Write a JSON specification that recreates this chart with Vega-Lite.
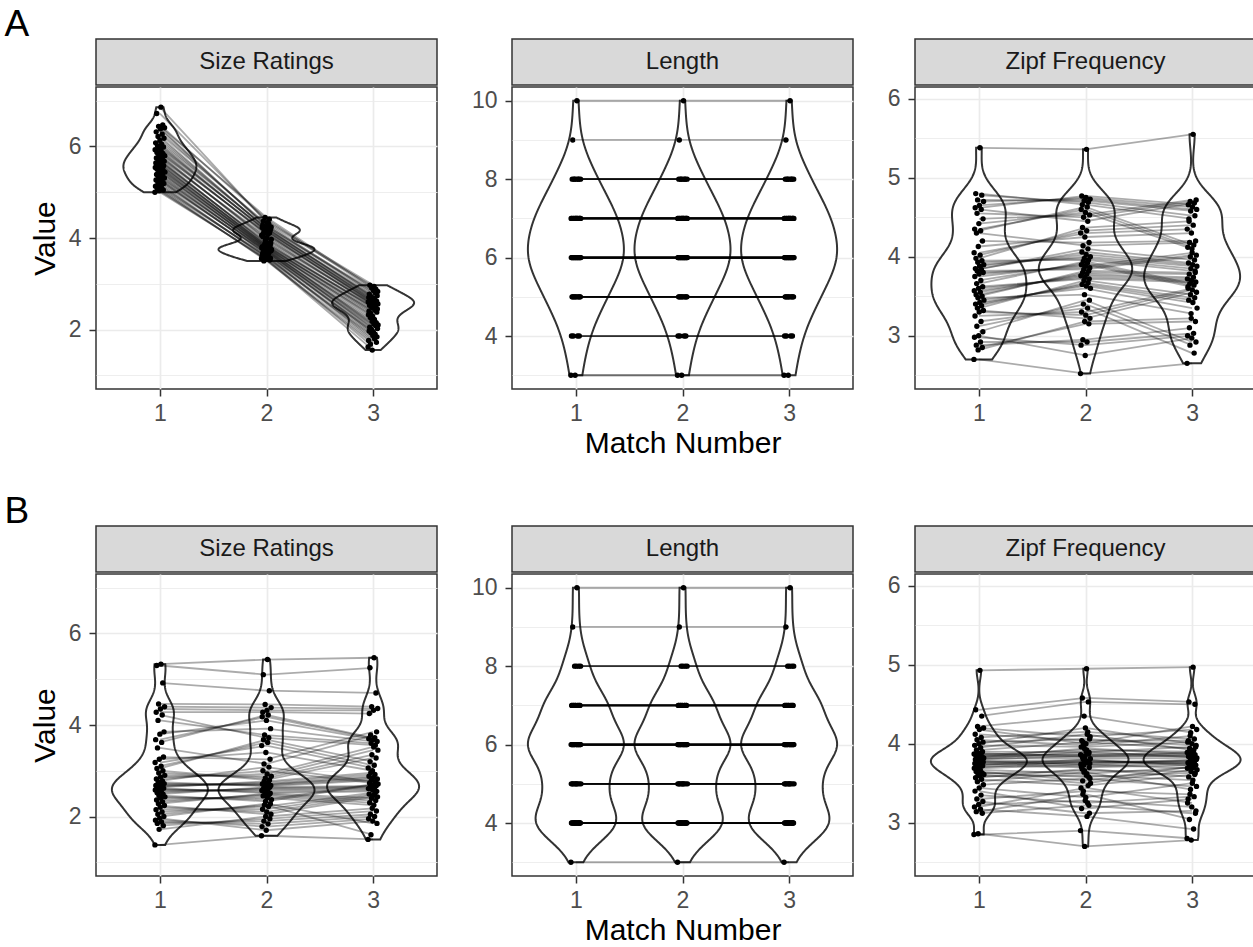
{
"$schema": "https://vega.github.io/schema/vega-lite/v6.json",
"padding": {"left": 4, "top": 6, "right": 0, "bottom": 0},
"config": {
  "font": "Liberation Sans",
  "view": {"stroke": "#333333", "strokeWidth": 1.5},
  "axis": {"domain": false, "tickColor": "#333333", "tickWidth": 1.5, "tickSize": 7, "labelColor": "#4d4d4d", "labelFontSize": 23, "labelFont": "Liberation Sans", "titleFont": "Liberation Sans", "titleFontSize": 30, "titleFontWeight": "normal", "titleColor": "#000000", "gridColor": "#ebebeb", "gridWidth": 1.7, "labelOverlap": false, "labelFlush": false},
  "axisY": {"titlePadding": 8, "labelPadding": 8},
  "axisX": {"titlePadding": 3, "labelPadding": 6},
  "title": {"font": "Liberation Sans", "fontWeight": "normal", "color": "#000000"}
},
"datasets": {
"sizeA": [
{"i":1,"1":5.00,"2":3.55,"3":1.62},{"i":24,"1":5.03,"2":3.53,"3":1.55},{"i":47,"1":5.05,"2":3.52,"3":1.72},{"i":14,"1":5.08,"2":3.50,"3":1.68},
{"i":37,"1":5.10,"2":3.61,"3":1.80},{"i":4,"1":5.13,"2":3.60,"3":1.76},{"i":27,"1":5.16,"2":3.58,"3":1.87},{"i":50,"1":5.19,"2":3.56,"3":1.84},
{"i":17,"1":5.22,"2":3.68,"3":1.93},{"i":40,"1":5.25,"2":3.66,"3":1.90},{"i":7,"1":5.27,"2":3.65,"3":1.97},{"i":30,"1":5.29,"2":3.63,"3":1.95},
{"i":53,"1":5.31,"2":3.72,"3":2.02},{"i":20,"1":5.34,"2":3.71,"3":2.00},{"i":43,"1":5.36,"2":3.70,"3":2.08},{"i":10,"1":5.39,"2":3.69,"3":2.05},
{"i":33,"1":5.41,"2":3.76,"3":2.12},{"i":56,"1":5.44,"2":3.75,"3":2.10},{"i":23,"1":5.46,"2":3.74,"3":2.18},{"i":46,"1":5.48,"2":3.73,"3":2.15},
{"i":13,"1":5.50,"2":3.80,"3":2.26},{"i":36,"1":5.52,"2":3.79,"3":2.22},{"i":3,"1":5.54,"2":3.78,"3":2.32},{"i":26,"1":5.56,"2":3.77,"3":2.29},
{"i":49,"1":5.58,"2":3.84,"3":2.38},{"i":16,"1":5.60,"2":3.83,"3":2.35},{"i":39,"1":5.62,"2":3.82,"3":2.42},{"i":6,"1":5.64,"2":3.81,"3":2.40},
{"i":29,"1":5.66,"2":3.91,"3":2.47},{"i":52,"1":5.68,"2":3.89,"3":2.45},{"i":19,"1":5.70,"2":3.87,"3":2.50},{"i":42,"1":5.72,"2":3.85,"3":2.49},
{"i":9,"1":5.75,"2":4.03,"3":2.53},{"i":32,"1":5.77,"2":4.00,"3":2.52},{"i":55,"1":5.80,"2":3.97,"3":2.56},{"i":22,"1":5.82,"2":3.94,"3":2.55},
{"i":45,"1":5.85,"2":4.11,"3":2.58},{"i":12,"1":5.87,"2":4.10,"3":2.57},{"i":35,"1":5.90,"2":4.08,"3":2.61},{"i":2,"1":5.93,"2":4.06,"3":2.60},
{"i":25,"1":5.96,"2":4.17,"3":2.64},{"i":48,"1":5.99,"2":4.16,"3":2.62},{"i":15,"1":6.02,"2":4.15,"3":2.67},{"i":38,"1":6.05,"2":4.13,"3":2.65},
{"i":5,"1":6.08,"2":4.23,"3":2.70},{"i":28,"1":6.13,"2":4.21,"3":2.69},{"i":51,"1":6.18,"2":4.20,"3":2.74},{"i":18,"1":6.22,"2":4.19,"3":2.72},
{"i":41,"1":6.27,"2":4.31,"3":2.80},{"i":8,"1":6.32,"2":4.28,"3":2.77},{"i":31,"1":6.38,"2":4.26,"3":2.85},{"i":54,"1":6.41,"2":4.24,"3":2.83},
{"i":21,"1":6.44,"2":4.45,"3":2.91},{"i":44,"1":6.47,"2":4.41,"3":2.88},{"i":11,"1":6.72,"2":4.37,"3":2.97},{"i":34,"1":6.86,"2":4.34,"3":2.94}
],
"lenA": [
{"i":1,"1":3,"2":3,"3":3},{"i":24,"1":3,"2":3,"3":3},
{"i":47,"1":4,"2":4,"3":4},{"i":14,"1":4,"2":4,"3":4},{"i":37,"1":4,"2":4,"3":4},{"i":4,"1":4,"2":4,"3":4},
{"i":27,"1":5,"2":5,"3":5},{"i":50,"1":5,"2":5,"3":5},{"i":17,"1":5,"2":5,"3":5},{"i":40,"1":5,"2":5,"3":5},{"i":7,"1":5,"2":5,"3":5},
{"i":30,"1":5,"2":5,"3":5},{"i":53,"1":5,"2":5,"3":5},{"i":20,"1":5,"2":5,"3":5},{"i":43,"1":5,"2":5,"3":5},{"i":10,"1":5,"2":5,"3":5},
{"i":33,"1":6,"2":6,"3":6},{"i":56,"1":6,"2":6,"3":6},{"i":23,"1":6,"2":6,"3":6},{"i":46,"1":6,"2":6,"3":6},{"i":13,"1":6,"2":6,"3":6},
{"i":36,"1":6,"2":6,"3":6},{"i":3,"1":6,"2":6,"3":6},{"i":26,"1":6,"2":6,"3":6},{"i":49,"1":6,"2":6,"3":6},{"i":16,"1":6,"2":6,"3":6},
{"i":39,"1":6,"2":6,"3":6},{"i":6,"1":6,"2":6,"3":6},{"i":29,"1":6,"2":6,"3":6},{"i":52,"1":6,"2":6,"3":6},{"i":19,"1":6,"2":6,"3":6},
{"i":42,"1":6,"2":6,"3":6},{"i":9,"1":6,"2":6,"3":6},
{"i":32,"1":7,"2":7,"3":7},{"i":55,"1":7,"2":7,"3":7},{"i":22,"1":7,"2":7,"3":7},{"i":45,"1":7,"2":7,"3":7},{"i":12,"1":7,"2":7,"3":7},
{"i":35,"1":7,"2":7,"3":7},{"i":2,"1":7,"2":7,"3":7},{"i":25,"1":7,"2":7,"3":7},{"i":48,"1":7,"2":7,"3":7},{"i":15,"1":7,"2":7,"3":7},
{"i":38,"1":7,"2":7,"3":7},{"i":5,"1":7,"2":7,"3":7},{"i":28,"1":7,"2":7,"3":7},{"i":51,"1":7,"2":7,"3":7},
{"i":18,"1":8,"2":8,"3":8},{"i":41,"1":8,"2":8,"3":8},{"i":8,"1":8,"2":8,"3":8},{"i":31,"1":8,"2":8,"3":8},{"i":54,"1":8,"2":8,"3":8},
{"i":21,"1":8,"2":8,"3":8},{"i":44,"1":8,"2":8,"3":8},
{"i":11,"1":9,"2":9,"3":9},{"i":34,"1":10,"2":10,"3":10}
],
"zipfA": [
{"i":1,"1":2.70,"2":2.52,"3":2.65},{"i":24,"1":2.82,"2":3.18,"3":3.22},{"i":47,"1":2.85,"2":3.15,"3":3.18},{"i":14,"1":2.88,"2":2.95,"3":3.10},
{"i":37,"1":2.92,"2":2.92,"3":3.03},{"i":4,"1":2.98,"2":2.88,"3":3.00},{"i":27,"1":3.00,"2":2.75,"3":2.97},{"i":50,"1":3.05,"2":3.45,"3":2.92},
{"i":17,"1":3.12,"2":3.40,"3":2.88},{"i":40,"1":3.18,"2":3.35,"3":2.78},{"i":7,"1":3.25,"2":3.30,"3":3.60},{"i":30,"1":3.30,"2":3.26,"3":3.58},
{"i":53,"1":3.32,"2":3.22,"3":3.55},{"i":20,"1":3.35,"2":3.70,"3":3.52},{"i":43,"1":3.38,"2":3.67,"3":3.48},{"i":10,"1":3.40,"2":3.65,"3":3.45},
{"i":33,"1":3.42,"2":3.63,"3":3.42},{"i":56,"1":3.45,"2":3.60,"3":3.35},{"i":23,"1":3.48,"2":3.52,"3":3.28},{"i":46,"1":3.50,"2":3.82,"3":3.80},
{"i":13,"1":3.52,"2":3.80,"3":3.78},{"i":36,"1":3.55,"2":3.78,"3":3.74},{"i":3,"1":3.57,"2":3.76,"3":3.72},{"i":26,"1":3.60,"2":3.74,"3":3.70},
{"i":49,"1":3.62,"2":3.72,"3":3.68},{"i":16,"1":3.66,"2":3.94,"3":3.66},{"i":39,"1":3.70,"2":3.92,"3":3.64},{"i":6,"1":3.75,"2":3.90,"3":3.62},
{"i":29,"1":3.78,"2":3.88,"3":4.05},{"i":52,"1":3.80,"2":3.86,"3":4.02},{"i":19,"1":3.82,"2":3.84,"3":4.00},{"i":42,"1":3.84,"2":4.10,"3":3.96},
{"i":9,"1":3.85,"2":4.06,"3":3.92},{"i":32,"1":3.88,"2":4.03,"3":3.90},{"i":55,"1":3.90,"2":4.00,"3":3.88},{"i":22,"1":3.93,"2":3.98,"3":3.85},
{"i":45,"1":3.95,"2":3.96,"3":3.82},{"i":12,"1":3.98,"2":4.37,"3":4.45},{"i":35,"1":4.02,"2":4.33,"3":4.40},{"i":2,"1":4.05,"2":4.30,"3":4.35},
{"i":25,"1":4.13,"2":4.25,"3":4.30},{"i":48,"1":4.20,"2":4.18,"3":4.20},{"i":15,"1":4.30,"2":4.14,"3":4.18},{"i":38,"1":4.33,"2":4.63,"3":4.15},
{"i":5,"1":4.35,"2":4.60,"3":4.12},{"i":28,"1":4.42,"2":4.56,"3":4.10},{"i":51,"1":4.48,"2":4.53,"3":4.72},{"i":18,"1":4.55,"2":4.50,"3":4.70},
{"i":41,"1":4.60,"2":4.45,"3":4.68},{"i":8,"1":4.62,"2":4.77,"3":4.66},{"i":31,"1":4.65,"2":4.75,"3":4.63},{"i":54,"1":4.70,"2":4.73,"3":4.60},
{"i":21,"1":4.72,"2":4.71,"3":4.58},{"i":44,"1":4.78,"2":4.69,"3":4.52},{"i":11,"1":4.80,"2":4.66,"3":4.48},{"i":34,"1":5.38,"2":5.36,"3":5.55}
],
"sizeB": [
{"i":1,"1":1.38,"2":1.58,"3":1.50},{"i":24,"1":1.72,"2":2.00,"3":2.18},{"i":47,"1":1.80,"2":1.95,"3":2.12},{"i":14,"1":1.85,"2":1.90,"3":2.05},
{"i":37,"1":1.88,"2":1.84,"3":2.00},{"i":4,"1":1.92,"2":1.78,"3":1.95},{"i":27,"1":1.96,"2":1.70,"3":1.90},{"i":50,"1":2.00,"2":2.28,"3":1.85},
{"i":17,"1":2.05,"2":2.25,"3":1.60},{"i":40,"1":2.10,"2":2.22,"3":2.52},{"i":7,"1":2.15,"2":2.16,"3":2.49},{"i":30,"1":2.20,"2":2.10,"3":2.46},
{"i":53,"1":2.24,"2":2.05,"3":2.43},{"i":20,"1":2.28,"2":2.50,"3":2.40},{"i":43,"1":2.32,"2":2.48,"3":2.35},{"i":10,"1":2.36,"2":2.45,"3":2.30},
{"i":33,"1":2.40,"2":2.41,"3":2.25},{"i":56,"1":2.43,"2":2.37,"3":2.71},{"i":23,"1":2.46,"2":2.33,"3":2.69},{"i":46,"1":2.49,"2":2.64,"3":2.67},
{"i":13,"1":2.52,"2":2.62,"3":2.65},{"i":36,"1":2.55,"2":2.60,"3":2.63},{"i":3,"1":2.58,"2":2.57,"3":2.61},{"i":26,"1":2.60,"2":2.54,"3":2.58},
{"i":49,"1":2.62,"2":2.51,"3":2.55},{"i":16,"1":2.64,"2":2.77,"3":2.96},{"i":39,"1":2.66,"2":2.74,"3":2.92},{"i":6,"1":2.68,"2":2.71,"3":2.88},
{"i":29,"1":2.70,"2":2.70,"3":2.85},{"i":52,"1":2.72,"2":2.68,"3":2.82},{"i":19,"1":2.75,"2":2.66,"3":2.79},{"i":42,"1":2.78,"2":3.08,"3":2.76},
{"i":9,"1":2.82,"2":3.00,"3":2.73},{"i":32,"1":2.86,"2":2.93,"3":3.52},{"i":55,"1":2.90,"2":2.88,"3":3.45},{"i":22,"1":2.95,"2":2.84,"3":3.35},
{"i":45,"1":3.00,"2":2.80,"3":3.28},{"i":12,"1":3.05,"2":3.68,"3":3.20},{"i":35,"1":3.10,"2":3.62,"3":3.12},{"i":2,"1":3.18,"2":3.55,"3":3.06},
{"i":25,"1":3.25,"2":3.40,"3":3.00},{"i":48,"1":3.30,"2":3.25,"3":3.85},{"i":15,"1":3.50,"2":3.15,"3":3.78},{"i":38,"1":3.62,"2":4.22,"3":3.72},
{"i":5,"1":3.68,"2":4.18,"3":3.70},{"i":28,"1":3.80,"2":4.10,"3":3.68},{"i":51,"1":3.85,"2":3.92,"3":3.64},{"i":18,"1":4.10,"2":3.78,"3":3.60},
{"i":41,"1":4.22,"2":3.72,"3":3.56},{"i":8,"1":4.28,"2":4.28,"3":4.25},{"i":31,"1":4.35,"2":4.32,"3":4.32},{"i":54,"1":4.40,"2":4.38,"3":4.36},
{"i":21,"1":4.46,"2":4.45,"3":4.40},{"i":44,"1":4.92,"2":4.75,"3":4.70},{"i":11,"1":5.30,"2":5.10,"3":5.25},{"i":34,"1":5.33,"2":5.43,"3":5.47}
],
"lenB": [
{"i":1,"1":3,"2":3,"3":3},
{"i":24,"1":4,"2":4,"3":4},{"i":47,"1":4,"2":4,"3":4},{"i":14,"1":4,"2":4,"3":4},{"i":37,"1":4,"2":4,"3":4},{"i":4,"1":4,"2":4,"3":4},
{"i":27,"1":4,"2":4,"3":4},{"i":50,"1":4,"2":4,"3":4},{"i":17,"1":4,"2":4,"3":4},{"i":40,"1":4,"2":4,"3":4},{"i":7,"1":4,"2":4,"3":4},
{"i":30,"1":4,"2":4,"3":4},{"i":53,"1":4,"2":4,"3":4},{"i":20,"1":4,"2":4,"3":4},{"i":43,"1":4,"2":4,"3":4},
{"i":10,"1":5,"2":5,"3":5},{"i":33,"1":5,"2":5,"3":5},{"i":56,"1":5,"2":5,"3":5},{"i":23,"1":5,"2":5,"3":5},{"i":46,"1":5,"2":5,"3":5},
{"i":13,"1":5,"2":5,"3":5},{"i":36,"1":5,"2":5,"3":5},{"i":3,"1":5,"2":5,"3":5},{"i":26,"1":5,"2":5,"3":5},
{"i":49,"1":6,"2":6,"3":6},{"i":16,"1":6,"2":6,"3":6},{"i":39,"1":6,"2":6,"3":6},{"i":6,"1":6,"2":6,"3":6},{"i":29,"1":6,"2":6,"3":6},
{"i":52,"1":6,"2":6,"3":6},{"i":19,"1":6,"2":6,"3":6},{"i":42,"1":6,"2":6,"3":6},{"i":9,"1":6,"2":6,"3":6},{"i":32,"1":6,"2":6,"3":6},
{"i":55,"1":6,"2":6,"3":6},{"i":22,"1":6,"2":6,"3":6},{"i":45,"1":6,"2":6,"3":6},{"i":12,"1":6,"2":6,"3":6},{"i":35,"1":6,"2":6,"3":6},
{"i":2,"1":6,"2":6,"3":6},
{"i":25,"1":7,"2":7,"3":7},{"i":48,"1":7,"2":7,"3":7},{"i":15,"1":7,"2":7,"3":7},{"i":38,"1":7,"2":7,"3":7},{"i":5,"1":7,"2":7,"3":7},
{"i":28,"1":7,"2":7,"3":7},{"i":51,"1":7,"2":7,"3":7},{"i":18,"1":7,"2":7,"3":7},{"i":41,"1":7,"2":7,"3":7},{"i":8,"1":7,"2":7,"3":7},
{"i":31,"1":8,"2":8,"3":8},{"i":54,"1":8,"2":8,"3":8},{"i":21,"1":8,"2":8,"3":8},{"i":44,"1":8,"2":8,"3":8},
{"i":11,"1":9,"2":9,"3":9},{"i":34,"1":10,"2":10,"3":10}
],
"zipfB": [
{"i":1,"1":2.85,"2":2.90,"3":2.80},{"i":24,"1":2.86,"2":2.70,"3":2.78},{"i":47,"1":3.12,"2":3.22,"3":3.12},{"i":14,"1":3.14,"2":3.36,"3":3.04},
{"i":37,"1":3.17,"2":3.08,"3":2.92},{"i":4,"1":3.20,"2":3.44,"3":3.25},{"i":27,"1":3.23,"2":3.28,"3":3.20},{"i":50,"1":3.27,"2":3.12,"3":3.15},
{"i":17,"1":3.30,"2":3.40,"3":3.36},{"i":40,"1":3.35,"2":3.25,"3":3.33},{"i":7,"1":3.40,"2":3.18,"3":3.30},{"i":30,"1":3.44,"2":3.32,"3":3.50},
{"i":53,"1":3.48,"2":3.56,"3":3.46},{"i":20,"1":3.52,"2":3.64,"3":3.42},{"i":43,"1":3.55,"2":3.47,"3":3.61},{"i":10,"1":3.57,"2":3.68,"3":3.58},
{"i":33,"1":3.59,"2":3.60,"3":3.54},{"i":56,"1":3.61,"2":3.50,"3":3.67},{"i":23,"1":3.62,"2":3.66,"3":3.65},{"i":46,"1":3.63,"2":3.58,"3":3.63},
{"i":13,"1":3.65,"2":3.53,"3":3.71},{"i":36,"1":3.67,"2":3.62,"3":3.70},{"i":3,"1":3.69,"2":3.74,"3":3.69},{"i":26,"1":3.70,"2":3.78,"3":3.74},
{"i":49,"1":3.72,"2":3.70,"3":3.73},{"i":16,"1":3.73,"2":3.80,"3":3.72},{"i":39,"1":3.74,"2":3.76,"3":3.77},{"i":6,"1":3.75,"2":3.71,"3":3.76},
{"i":29,"1":3.76,"2":3.79,"3":3.75},{"i":52,"1":3.77,"2":3.75,"3":3.80},{"i":19,"1":3.78,"2":3.73,"3":3.79},{"i":42,"1":3.79,"2":3.77,"3":3.78},
{"i":9,"1":3.80,"2":3.85,"3":3.84},{"i":32,"1":3.81,"2":3.90,"3":3.83},{"i":55,"1":3.82,"2":3.81,"3":3.82},{"i":22,"1":3.83,"2":3.94,"3":3.87},
{"i":45,"1":3.84,"2":3.87,"3":3.86},{"i":12,"1":3.85,"2":3.83,"3":3.85},{"i":35,"1":3.86,"2":3.92,"3":3.90},{"i":2,"1":3.87,"2":3.86,"3":3.89},
{"i":25,"1":3.88,"2":3.84,"3":3.88},{"i":48,"1":3.90,"2":3.89,"3":3.96},{"i":15,"1":3.92,"2":4.02,"3":3.94},{"i":38,"1":3.95,"2":4.12,"3":3.92},
{"i":5,"1":3.98,"2":3.96,"3":4.02},{"i":28,"1":4.00,"2":4.20,"3":4.00},{"i":51,"1":4.02,"2":4.06,"3":3.98},{"i":18,"1":4.05,"2":3.98,"3":4.10},
{"i":41,"1":4.08,"2":4.15,"3":4.06},{"i":8,"1":4.12,"2":4.04,"3":4.04},{"i":31,"1":4.18,"2":4.00,"3":4.22},{"i":54,"1":4.20,"2":4.09,"3":4.18},
{"i":21,"1":4.22,"2":4.35,"3":4.14},{"i":44,"1":4.35,"2":4.53,"3":4.50},{"i":11,"1":4.43,"2":4.58,"3":4.53},{"i":34,"1":4.93,"2":4.95,"3":4.97}
]
},
"vconcat": [
{
"title": {"text": "A", "anchor": "start", "frame": "bounds", "fontSize": 37, "dx": -25, "offset": -6},
"spacing": 32,
"hconcat": [
{"spacing": 0, "vconcat": [
 {"width": 341, "height": 46, "view": {"fill": "#d9d9d9", "stroke": "#333333", "strokeWidth": 1.5}, "data": {"values": [{"t": "Size Ratings"}]}, "mark": {"type": "text", "fontSize": 24, "color": "#1a1a1a"}, "encoding": {"text": {"field": "t", "type": "nominal"}}},
 {"width": 341, "height": 302, "data": {"name": "sizeA"}, "transform": [{"fold": ["1","2","3"], "as": ["match","value"]}],
  "encoding": {"y": {"field": "value", "type": "quantitative", "scale": {"domain": [0.7, 7.3], "nice": false, "zero": false}, "axis": {"title": "Value", "values": [1,2,3,4,5,6,7], "labelExpr": "datum.value % 2 === 0 ? datum.label : ''", "tickOpacity": {"condition": {"test": "datum.value % 2 === 0", "value": 1}, "value": 0}, "gridWidth": {"condition": {"test": "datum.value % 2 === 0", "value": 1.7}, "value": 0.85}}}},
  "resolve": {"scale": {"x": "independent"}},
  "layer": [
   {"mark": {"type": "circle", "opacity": 0}, "encoding": {"x": {"field": "match", "type": "ordinal", "scale": {"type": "point", "domain": ["1","2","3"], "padding": 0.6}, "axis": null}}},
   {"transform": [{"filter": "datum.match === '1'"}, {"density": "value", "bandwidth": 0.16, "steps": 200}], "mark": {"type": "area", "orient": "horizontal", "fill": "white", "strokeOpacity": 0}, "encoding": {"x": {"field": "density", "type": "quantitative", "stack": "center", "scale": {"range": [27.4, 100.4], "nice": false, "zero": false}, "axis": null}}},
   {"transform": [{"filter": "datum.match === '2'"}, {"density": "value", "bandwidth": 0.09, "steps": 200}], "mark": {"type": "area", "orient": "horizontal", "fill": "white", "strokeOpacity": 0}, "encoding": {"x": {"field": "density", "type": "quantitative", "stack": "center", "scale": {"range": [122.5, 218.5], "nice": false, "zero": false}, "axis": null}}},
   {"transform": [{"filter": "datum.match === '3'"}, {"density": "value", "bandwidth": 0.13, "steps": 200}], "mark": {"type": "area", "orient": "horizontal", "fill": "white", "strokeOpacity": 0}, "encoding": {"x": {"field": "density", "type": "quantitative", "stack": "center", "scale": {"range": [236.1, 318.1], "nice": false, "zero": false}, "axis": null}}},
   {"transform": [{"filter": "datum.match === '1'"}, {"density": "value", "bandwidth": 0.16, "steps": 200}], "mark": {"type": "area", "orient": "horizontal", "fill": "white", "fillOpacity": 0, "stroke": "#333333", "strokeWidth": 2}, "encoding": {"x": {"field": "density", "type": "quantitative", "stack": "center", "scale": {"range": [27.4, 100.4], "nice": false, "zero": false}, "axis": null}}},
   {"transform": [{"filter": "datum.match === '2'"}, {"density": "value", "bandwidth": 0.09, "steps": 200}], "mark": {"type": "area", "orient": "horizontal", "fill": "white", "fillOpacity": 0, "stroke": "#333333", "strokeWidth": 2}, "encoding": {"x": {"field": "density", "type": "quantitative", "stack": "center", "scale": {"range": [122.5, 218.5], "nice": false, "zero": false}, "axis": null}}},
   {"transform": [{"filter": "datum.match === '3'"}, {"density": "value", "bandwidth": 0.13, "steps": 200}], "mark": {"type": "area", "orient": "horizontal", "fill": "white", "fillOpacity": 0, "stroke": "#333333", "strokeWidth": 2}, "encoding": {"x": {"field": "density", "type": "quantitative", "stack": "center", "scale": {"range": [236.1, 318.1], "nice": false, "zero": false}, "axis": null}}},
   {"mark": {"type": "line", "color": "#000000", "opacity": 0.33, "strokeWidth": 1.8}, "encoding": {"x": {"field": "match", "type": "ordinal", "scale": {"type": "point", "domain": ["1","2","3"], "padding": 0.6}, "axis": {"labelAngle": 0, "grid": true, "title": null}}, "detail": {"field": "i", "type": "nominal"}}},
   {"mark": {"type": "circle", "color": "#000000", "opacity": 1, "size": 29}, "encoding": {"x": {"field": "match", "type": "ordinal", "scale": {"type": "point", "domain": ["1","2","3"], "padding": 0.6}, "axis": null}, "xOffset": {"field": "i", "type": "quantitative", "scale": {"domain": [1, 56], "range": [-5, 5]}}}}
  ]}
]},
{"spacing": 0, "vconcat": [
 {"width": 341, "height": 46, "view": {"fill": "#d9d9d9", "stroke": "#333333", "strokeWidth": 1.5}, "data": {"values": [{"t": "Length"}]}, "mark": {"type": "text", "fontSize": 24, "color": "#1a1a1a"}, "encoding": {"text": {"field": "t", "type": "nominal"}}},
 {"width": 341, "height": 302, "data": {"name": "lenA"}, "transform": [{"fold": ["1","2","3"], "as": ["match","value"]}],
  "encoding": {"y": {"field": "value", "type": "quantitative", "scale": {"domain": [2.65, 10.35], "nice": false, "zero": false}, "axis": {"title": null, "values": [3,4,5,6,7,8,9,10], "labelExpr": "datum.value % 2 === 0 ? datum.label : ''", "tickOpacity": {"condition": {"test": "datum.value % 2 === 0", "value": 1}, "value": 0}, "gridWidth": {"condition": {"test": "datum.value % 2 === 0", "value": 1.7}, "value": 0.85}}}},
  "resolve": {"scale": {"x": "independent"}},
  "layer": [
   {"mark": {"type": "circle", "opacity": 0}, "encoding": {"x": {"field": "match", "type": "ordinal", "scale": {"type": "point", "domain": ["1","2","3"], "padding": 0.6}, "axis": null}}},
   {"transform": [{"filter": "datum.match === '1'"}, {"density": "value", "bandwidth": 0.65, "steps": 200}], "mark": {"type": "area", "orient": "horizontal", "fill": "white", "strokeOpacity": 0}, "encoding": {"x": {"field": "density", "type": "quantitative", "stack": "center", "scale": {"range": [15.9, 111.9], "nice": false, "zero": false}, "axis": null}}},
   {"transform": [{"filter": "datum.match === '2'"}, {"density": "value", "bandwidth": 0.65, "steps": 200}], "mark": {"type": "area", "orient": "horizontal", "fill": "white", "strokeOpacity": 0}, "encoding": {"x": {"field": "density", "type": "quantitative", "stack": "center", "scale": {"range": [122.5, 218.5], "nice": false, "zero": false}, "axis": null}}},
   {"transform": [{"filter": "datum.match === '3'"}, {"density": "value", "bandwidth": 0.65, "steps": 200}], "mark": {"type": "area", "orient": "horizontal", "fill": "white", "strokeOpacity": 0}, "encoding": {"x": {"field": "density", "type": "quantitative", "stack": "center", "scale": {"range": [229.1, 325.1], "nice": false, "zero": false}, "axis": null}}},
   {"transform": [{"filter": "datum.match === '1'"}, {"density": "value", "bandwidth": 0.65, "steps": 200}], "mark": {"type": "area", "orient": "horizontal", "fill": "white", "fillOpacity": 0, "stroke": "#333333", "strokeWidth": 2}, "encoding": {"x": {"field": "density", "type": "quantitative", "stack": "center", "scale": {"range": [15.9, 111.9], "nice": false, "zero": false}, "axis": null}}},
   {"transform": [{"filter": "datum.match === '2'"}, {"density": "value", "bandwidth": 0.65, "steps": 200}], "mark": {"type": "area", "orient": "horizontal", "fill": "white", "fillOpacity": 0, "stroke": "#333333", "strokeWidth": 2}, "encoding": {"x": {"field": "density", "type": "quantitative", "stack": "center", "scale": {"range": [122.5, 218.5], "nice": false, "zero": false}, "axis": null}}},
   {"transform": [{"filter": "datum.match === '3'"}, {"density": "value", "bandwidth": 0.65, "steps": 200}], "mark": {"type": "area", "orient": "horizontal", "fill": "white", "fillOpacity": 0, "stroke": "#333333", "strokeWidth": 2}, "encoding": {"x": {"field": "density", "type": "quantitative", "stack": "center", "scale": {"range": [229.1, 325.1], "nice": false, "zero": false}, "axis": null}}},
   {"mark": {"type": "line", "color": "#000000", "opacity": 0.33, "strokeWidth": 1.8}, "encoding": {"x": {"field": "match", "type": "ordinal", "scale": {"type": "point", "domain": ["1","2","3"], "padding": 0.6}, "axis": {"labelAngle": 0, "grid": true, "title": "Match Number"}}, "detail": {"field": "i", "type": "nominal"}}},
   {"mark": {"type": "circle", "color": "#000000", "opacity": 1, "size": 29}, "encoding": {"x": {"field": "match", "type": "ordinal", "scale": {"type": "point", "domain": ["1","2","3"], "padding": 0.6}, "axis": null}, "xOffset": {"field": "i", "type": "quantitative", "scale": {"domain": [1, 56], "range": [-5, 5]}}}}
  ]}
]},
{"spacing": 0, "vconcat": [
 {"width": 341, "height": 46, "view": {"fill": "#d9d9d9", "stroke": "#333333", "strokeWidth": 1.5}, "data": {"values": [{"t": "Zipf Frequency"}]}, "mark": {"type": "text", "fontSize": 24, "color": "#1a1a1a"}, "encoding": {"text": {"field": "t", "type": "nominal"}}},
 {"width": 341, "height": 302, "data": {"name": "zipfA"}, "transform": [{"fold": ["1","2","3"], "as": ["match","value"]}],
  "encoding": {"y": {"field": "value", "type": "quantitative", "scale": {"domain": [2.325, 6.15], "nice": false, "zero": false}, "axis": {"title": null, "values": [2.5,3,3.5,4,4.5,5,5.5,6], "labelExpr": "datum.value % 1 === 0 ? format(datum.value, 'd') : ''", "tickOpacity": {"condition": {"test": "datum.value % 1 === 0", "value": 1}, "value": 0}, "gridWidth": {"condition": {"test": "datum.value % 1 === 0", "value": 1.7}, "value": 0.85}}}},
  "resolve": {"scale": {"x": "independent"}},
  "layer": [
   {"mark": {"type": "circle", "opacity": 0}, "encoding": {"x": {"field": "match", "type": "ordinal", "scale": {"type": "point", "domain": ["1","2","3"], "padding": 0.6}, "axis": null}}},
   {"transform": [{"filter": "datum.match === '1'"}, {"density": "value", "bandwidth": 0.2, "steps": 200}], "mark": {"type": "area", "orient": "horizontal", "fill": "white", "strokeOpacity": 0}, "encoding": {"x": {"field": "density", "type": "quantitative", "stack": "center", "scale": {"range": [16.4, 111.4], "nice": false, "zero": false}, "axis": null}}},
   {"transform": [{"filter": "datum.match === '2'"}, {"density": "value", "bandwidth": 0.2, "steps": 200}], "mark": {"type": "area", "orient": "horizontal", "fill": "white", "strokeOpacity": 0}, "encoding": {"x": {"field": "density", "type": "quantitative", "stack": "center", "scale": {"range": [123.8, 217.2], "nice": false, "zero": false}, "axis": null}}},
   {"transform": [{"filter": "datum.match === '3'"}, {"density": "value", "bandwidth": 0.2, "steps": 200}], "mark": {"type": "area", "orient": "horizontal", "fill": "white", "strokeOpacity": 0}, "encoding": {"x": {"field": "density", "type": "quantitative", "stack": "center", "scale": {"range": [229.1, 325.1], "nice": false, "zero": false}, "axis": null}}},
   {"transform": [{"filter": "datum.match === '1'"}, {"density": "value", "bandwidth": 0.2, "steps": 200}], "mark": {"type": "area", "orient": "horizontal", "fill": "white", "fillOpacity": 0, "stroke": "#333333", "strokeWidth": 2}, "encoding": {"x": {"field": "density", "type": "quantitative", "stack": "center", "scale": {"range": [16.4, 111.4], "nice": false, "zero": false}, "axis": null}}},
   {"transform": [{"filter": "datum.match === '2'"}, {"density": "value", "bandwidth": 0.2, "steps": 200}], "mark": {"type": "area", "orient": "horizontal", "fill": "white", "fillOpacity": 0, "stroke": "#333333", "strokeWidth": 2}, "encoding": {"x": {"field": "density", "type": "quantitative", "stack": "center", "scale": {"range": [123.8, 217.2], "nice": false, "zero": false}, "axis": null}}},
   {"transform": [{"filter": "datum.match === '3'"}, {"density": "value", "bandwidth": 0.2, "steps": 200}], "mark": {"type": "area", "orient": "horizontal", "fill": "white", "fillOpacity": 0, "stroke": "#333333", "strokeWidth": 2}, "encoding": {"x": {"field": "density", "type": "quantitative", "stack": "center", "scale": {"range": [229.1, 325.1], "nice": false, "zero": false}, "axis": null}}},
   {"mark": {"type": "line", "color": "#000000", "opacity": 0.33, "strokeWidth": 1.8}, "encoding": {"x": {"field": "match", "type": "ordinal", "scale": {"type": "point", "domain": ["1","2","3"], "padding": 0.6}, "axis": {"labelAngle": 0, "grid": true, "title": null}}, "detail": {"field": "i", "type": "nominal"}}},
   {"mark": {"type": "circle", "color": "#000000", "opacity": 1, "size": 29}, "encoding": {"x": {"field": "match", "type": "ordinal", "scale": {"type": "point", "domain": ["1","2","3"], "padding": 0.6}, "axis": null}, "xOffset": {"field": "i", "type": "quantitative", "scale": {"domain": [1, 56], "range": [-5, 5]}}}}
  ]}
]}
]
},
{
"title": {"text": "B", "anchor": "start", "frame": "bounds", "fontSize": 37, "dx": -25, "offset": -6},
"spacing": 32,
"hconcat": [
{"spacing": 0, "vconcat": [
 {"width": 341, "height": 46, "view": {"fill": "#d9d9d9", "stroke": "#333333", "strokeWidth": 1.5}, "data": {"values": [{"t": "Size Ratings"}]}, "mark": {"type": "text", "fontSize": 24, "color": "#1a1a1a"}, "encoding": {"text": {"field": "t", "type": "nominal"}}},
 {"width": 341, "height": 302, "data": {"name": "sizeB"}, "transform": [{"fold": ["1","2","3"], "as": ["match","value"]}],
  "encoding": {"y": {"field": "value", "type": "quantitative", "scale": {"domain": [0.7, 7.3], "nice": false, "zero": false}, "axis": {"title": "Value", "values": [1,2,3,4,5,6,7], "labelExpr": "datum.value % 2 === 0 ? datum.label : ''", "tickOpacity": {"condition": {"test": "datum.value % 2 === 0", "value": 1}, "value": 0}, "gridWidth": {"condition": {"test": "datum.value % 2 === 0", "value": 1.7}, "value": 0.85}}}},
  "resolve": {"scale": {"x": "independent"}},
  "layer": [
   {"mark": {"type": "circle", "opacity": 0}, "encoding": {"x": {"field": "match", "type": "ordinal", "scale": {"type": "point", "domain": ["1","2","3"], "padding": 0.6}, "axis": null}}},
   {"transform": [{"filter": "datum.match === '1'"}, {"density": "value", "bandwidth": 0.25, "steps": 200}], "mark": {"type": "area", "orient": "horizontal", "fill": "white", "strokeOpacity": 0}, "encoding": {"x": {"field": "density", "type": "quantitative", "stack": "center", "scale": {"range": [15.9, 111.9], "nice": false, "zero": false}, "axis": null}}},
   {"transform": [{"filter": "datum.match === '2'"}, {"density": "value", "bandwidth": 0.25, "steps": 200}], "mark": {"type": "area", "orient": "horizontal", "fill": "white", "strokeOpacity": 0}, "encoding": {"x": {"field": "density", "type": "quantitative", "stack": "center", "scale": {"range": [122.5, 218.5], "nice": false, "zero": false}, "axis": null}}},
   {"transform": [{"filter": "datum.match === '3'"}, {"density": "value", "bandwidth": 0.25, "steps": 200}], "mark": {"type": "area", "orient": "horizontal", "fill": "white", "strokeOpacity": 0}, "encoding": {"x": {"field": "density", "type": "quantitative", "stack": "center", "scale": {"range": [231.1, 323.1], "nice": false, "zero": false}, "axis": null}}},
   {"transform": [{"filter": "datum.match === '1'"}, {"density": "value", "bandwidth": 0.25, "steps": 200}], "mark": {"type": "area", "orient": "horizontal", "fill": "white", "fillOpacity": 0, "stroke": "#333333", "strokeWidth": 2}, "encoding": {"x": {"field": "density", "type": "quantitative", "stack": "center", "scale": {"range": [15.9, 111.9], "nice": false, "zero": false}, "axis": null}}},
   {"transform": [{"filter": "datum.match === '2'"}, {"density": "value", "bandwidth": 0.25, "steps": 200}], "mark": {"type": "area", "orient": "horizontal", "fill": "white", "fillOpacity": 0, "stroke": "#333333", "strokeWidth": 2}, "encoding": {"x": {"field": "density", "type": "quantitative", "stack": "center", "scale": {"range": [122.5, 218.5], "nice": false, "zero": false}, "axis": null}}},
   {"transform": [{"filter": "datum.match === '3'"}, {"density": "value", "bandwidth": 0.25, "steps": 200}], "mark": {"type": "area", "orient": "horizontal", "fill": "white", "fillOpacity": 0, "stroke": "#333333", "strokeWidth": 2}, "encoding": {"x": {"field": "density", "type": "quantitative", "stack": "center", "scale": {"range": [231.1, 323.1], "nice": false, "zero": false}, "axis": null}}},
   {"mark": {"type": "line", "color": "#000000", "opacity": 0.33, "strokeWidth": 1.8}, "encoding": {"x": {"field": "match", "type": "ordinal", "scale": {"type": "point", "domain": ["1","2","3"], "padding": 0.6}, "axis": {"labelAngle": 0, "grid": true, "title": null}}, "detail": {"field": "i", "type": "nominal"}}},
   {"mark": {"type": "circle", "color": "#000000", "opacity": 1, "size": 29}, "encoding": {"x": {"field": "match", "type": "ordinal", "scale": {"type": "point", "domain": ["1","2","3"], "padding": 0.6}, "axis": null}, "xOffset": {"field": "i", "type": "quantitative", "scale": {"domain": [1, 56], "range": [-5, 5]}}}}
  ]}
]},
{"spacing": 0, "vconcat": [
 {"width": 341, "height": 46, "view": {"fill": "#d9d9d9", "stroke": "#333333", "strokeWidth": 1.5}, "data": {"values": [{"t": "Length"}]}, "mark": {"type": "text", "fontSize": 24, "color": "#1a1a1a"}, "encoding": {"text": {"field": "t", "type": "nominal"}}},
 {"width": 341, "height": 302, "data": {"name": "lenB"}, "transform": [{"fold": ["1","2","3"], "as": ["match","value"]}],
  "encoding": {"y": {"field": "value", "type": "quantitative", "scale": {"domain": [2.65, 10.35], "nice": false, "zero": false}, "axis": {"title": null, "values": [3,4,5,6,7,8,9,10], "labelExpr": "datum.value % 2 === 0 ? datum.label : ''", "tickOpacity": {"condition": {"test": "datum.value % 2 === 0", "value": 1}, "value": 0}, "gridWidth": {"condition": {"test": "datum.value % 2 === 0", "value": 1.7}, "value": 0.85}}}},
  "resolve": {"scale": {"x": "independent"}},
  "layer": [
   {"mark": {"type": "circle", "opacity": 0}, "encoding": {"x": {"field": "match", "type": "ordinal", "scale": {"type": "point", "domain": ["1","2","3"], "padding": 0.6}, "axis": null}}},
   {"transform": [{"filter": "datum.match === '1'"}, {"density": "value", "bandwidth": 0.5, "steps": 200}], "mark": {"type": "area", "orient": "horizontal", "fill": "white", "strokeOpacity": 0}, "encoding": {"x": {"field": "density", "type": "quantitative", "stack": "center", "scale": {"range": [15.9, 111.9], "nice": false, "zero": false}, "axis": null}}},
   {"transform": [{"filter": "datum.match === '2'"}, {"density": "value", "bandwidth": 0.5, "steps": 200}], "mark": {"type": "area", "orient": "horizontal", "fill": "white", "strokeOpacity": 0}, "encoding": {"x": {"field": "density", "type": "quantitative", "stack": "center", "scale": {"range": [122.5, 218.5], "nice": false, "zero": false}, "axis": null}}},
   {"transform": [{"filter": "datum.match === '3'"}, {"density": "value", "bandwidth": 0.5, "steps": 200}], "mark": {"type": "area", "orient": "horizontal", "fill": "white", "strokeOpacity": 0}, "encoding": {"x": {"field": "density", "type": "quantitative", "stack": "center", "scale": {"range": [229.1, 325.1], "nice": false, "zero": false}, "axis": null}}},
   {"transform": [{"filter": "datum.match === '1'"}, {"density": "value", "bandwidth": 0.5, "steps": 200}], "mark": {"type": "area", "orient": "horizontal", "fill": "white", "fillOpacity": 0, "stroke": "#333333", "strokeWidth": 2}, "encoding": {"x": {"field": "density", "type": "quantitative", "stack": "center", "scale": {"range": [15.9, 111.9], "nice": false, "zero": false}, "axis": null}}},
   {"transform": [{"filter": "datum.match === '2'"}, {"density": "value", "bandwidth": 0.5, "steps": 200}], "mark": {"type": "area", "orient": "horizontal", "fill": "white", "fillOpacity": 0, "stroke": "#333333", "strokeWidth": 2}, "encoding": {"x": {"field": "density", "type": "quantitative", "stack": "center", "scale": {"range": [122.5, 218.5], "nice": false, "zero": false}, "axis": null}}},
   {"transform": [{"filter": "datum.match === '3'"}, {"density": "value", "bandwidth": 0.5, "steps": 200}], "mark": {"type": "area", "orient": "horizontal", "fill": "white", "fillOpacity": 0, "stroke": "#333333", "strokeWidth": 2}, "encoding": {"x": {"field": "density", "type": "quantitative", "stack": "center", "scale": {"range": [229.1, 325.1], "nice": false, "zero": false}, "axis": null}}},
   {"mark": {"type": "line", "color": "#000000", "opacity": 0.33, "strokeWidth": 1.8}, "encoding": {"x": {"field": "match", "type": "ordinal", "scale": {"type": "point", "domain": ["1","2","3"], "padding": 0.6}, "axis": {"labelAngle": 0, "grid": true, "title": "Match Number"}}, "detail": {"field": "i", "type": "nominal"}}},
   {"mark": {"type": "circle", "color": "#000000", "opacity": 1, "size": 29}, "encoding": {"x": {"field": "match", "type": "ordinal", "scale": {"type": "point", "domain": ["1","2","3"], "padding": 0.6}, "axis": null}, "xOffset": {"field": "i", "type": "quantitative", "scale": {"domain": [1, 56], "range": [-5, 5]}}}}
  ]}
]},
{"spacing": 0, "vconcat": [
 {"width": 341, "height": 46, "view": {"fill": "#d9d9d9", "stroke": "#333333", "strokeWidth": 1.5}, "data": {"values": [{"t": "Zipf Frequency"}]}, "mark": {"type": "text", "fontSize": 24, "color": "#1a1a1a"}, "encoding": {"text": {"field": "t", "type": "nominal"}}},
 {"width": 341, "height": 302, "data": {"name": "zipfB"}, "transform": [{"fold": ["1","2","3"], "as": ["match","value"]}],
  "encoding": {"y": {"field": "value", "type": "quantitative", "scale": {"domain": [2.325, 6.15], "nice": false, "zero": false}, "axis": {"title": null, "values": [2.5,3,3.5,4,4.5,5,5.5,6], "labelExpr": "datum.value % 1 === 0 ? format(datum.value, 'd') : ''", "tickOpacity": {"condition": {"test": "datum.value % 1 === 0", "value": 1}, "value": 0}, "gridWidth": {"condition": {"test": "datum.value % 1 === 0", "value": 1.7}, "value": 0.85}}}},
  "resolve": {"scale": {"x": "independent"}},
  "layer": [
   {"mark": {"type": "circle", "opacity": 0}, "encoding": {"x": {"field": "match", "type": "ordinal", "scale": {"type": "point", "domain": ["1","2","3"], "padding": 0.6}, "axis": null}}},
   {"transform": [{"filter": "datum.match === '1'"}, {"density": "value", "bandwidth": 0.11, "steps": 200}], "mark": {"type": "area", "orient": "horizontal", "fill": "white", "strokeOpacity": 0}, "encoding": {"x": {"field": "density", "type": "quantitative", "stack": "center", "scale": {"range": [15.9, 111.9], "nice": false, "zero": false}, "axis": null}}},
   {"transform": [{"filter": "datum.match === '2'"}, {"density": "value", "bandwidth": 0.11, "steps": 200}], "mark": {"type": "area", "orient": "horizontal", "fill": "white", "strokeOpacity": 0}, "encoding": {"x": {"field": "density", "type": "quantitative", "stack": "center", "scale": {"range": [127.5, 213.5], "nice": false, "zero": false}, "axis": null}}},
   {"transform": [{"filter": "datum.match === '3'"}, {"density": "value", "bandwidth": 0.11, "steps": 200}], "mark": {"type": "area", "orient": "horizontal", "fill": "white", "strokeOpacity": 0}, "encoding": {"x": {"field": "density", "type": "quantitative", "stack": "center", "scale": {"range": [228.6, 325.6], "nice": false, "zero": false}, "axis": null}}},
   {"transform": [{"filter": "datum.match === '1'"}, {"density": "value", "bandwidth": 0.11, "steps": 200}], "mark": {"type": "area", "orient": "horizontal", "fill": "white", "fillOpacity": 0, "stroke": "#333333", "strokeWidth": 2}, "encoding": {"x": {"field": "density", "type": "quantitative", "stack": "center", "scale": {"range": [15.9, 111.9], "nice": false, "zero": false}, "axis": null}}},
   {"transform": [{"filter": "datum.match === '2'"}, {"density": "value", "bandwidth": 0.11, "steps": 200}], "mark": {"type": "area", "orient": "horizontal", "fill": "white", "fillOpacity": 0, "stroke": "#333333", "strokeWidth": 2}, "encoding": {"x": {"field": "density", "type": "quantitative", "stack": "center", "scale": {"range": [127.5, 213.5], "nice": false, "zero": false}, "axis": null}}},
   {"transform": [{"filter": "datum.match === '3'"}, {"density": "value", "bandwidth": 0.11, "steps": 200}], "mark": {"type": "area", "orient": "horizontal", "fill": "white", "fillOpacity": 0, "stroke": "#333333", "strokeWidth": 2}, "encoding": {"x": {"field": "density", "type": "quantitative", "stack": "center", "scale": {"range": [228.6, 325.6], "nice": false, "zero": false}, "axis": null}}},
   {"mark": {"type": "line", "color": "#000000", "opacity": 0.33, "strokeWidth": 1.8}, "encoding": {"x": {"field": "match", "type": "ordinal", "scale": {"type": "point", "domain": ["1","2","3"], "padding": 0.6}, "axis": {"labelAngle": 0, "grid": true, "title": null}}, "detail": {"field": "i", "type": "nominal"}}},
   {"mark": {"type": "circle", "color": "#000000", "opacity": 1, "size": 29}, "encoding": {"x": {"field": "match", "type": "ordinal", "scale": {"type": "point", "domain": ["1","2","3"], "padding": 0.6}, "axis": null}, "xOffset": {"field": "i", "type": "quantitative", "scale": {"domain": [1, 56], "range": [-5, 5]}}}}
  ]}
]}
]
}
],
"spacing": 34
}
